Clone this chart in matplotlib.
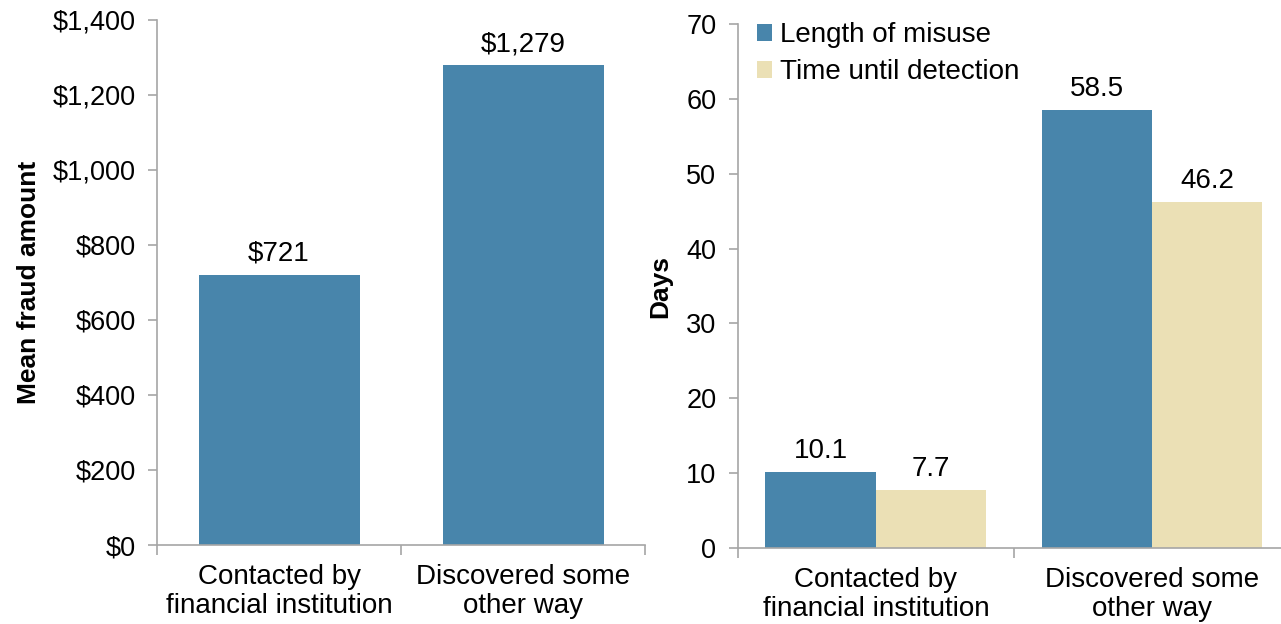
import numpy as np
import matplotlib.pyplot as plt

plt.rcParams['font.family'] = ['Liberation Sans', 'DejaVu Sans']

# ---------------- DATA ----------------
categories = ["Contacted by\nfinancial institution", "Discovered some\nother way"]
mean_fraud = [721, 1279]
fraud_labels = ["$721", "$1,279"]

length_misuse = [10.1, 58.5]
time_detection = [7.7, 46.2]

BLUE = "#4885ab"
BEIGE = "#ebe0b5"
SPINE = "#a6a6a6"
FS = 20
TICK_FS = 19.5

fig = plt.figure(figsize=(12.81, 6.24), dpi=100)
ax1 = fig.add_axes([0.1226, 0.1266, 0.381, 0.8414])
ax2 = fig.add_axes([0.576, 0.1218, 0.431, 0.8397])

x = np.arange(len(categories))


def style_axis(ax):
    for s in ["top", "right"]:
        ax.spines[s].set_visible(False)
    for s in ["left", "bottom"]:
        ax.spines[s].set_color(SPINE)
        ax.spines[s].set_linewidth(1.2)
    ax.set_xlim(-0.5, len(categories) - 0.5)
    # category ticks sit at the boundaries, labels in the middle
    ax.set_xticks(np.arange(len(categories) + 1) - 0.5)
    ax.set_xticklabels([])
    ax.set_xticks(x, minor=True)
    ax.set_xticklabels(categories, minor=True, fontsize=FS, linespacing=1.12)
    ax.tick_params(axis="x", which="major", direction="out", length=7, color=SPINE, width=1.2)
    ax.tick_params(axis="x", which="minor", length=0, pad=14)
    ax.tick_params(axis="y", direction="out", length=6.5, color=SPINE, width=1.2,
                   labelsize=TICK_FS, pad=9)


# ---------------- LEFT: mean fraud amount ----------------
b = ax1.bar(x, mean_fraud, width=0.66, color=BLUE)
for rect, lab in zip(b, fraud_labels):
    ax1.annotate(lab, (rect.get_x() + rect.get_width() / 2, rect.get_height()),
                 xytext=(0, 6), textcoords="offset points", ha="center", va="bottom", fontsize=FS)
style_axis(ax1)
ax1.set_ylim(0, 1400)
ax1.set_yticks(np.arange(0, 1401, 200))
ax1.set_yticklabels([f"${v:,}" for v in range(0, 1401, 200)])
ax1.set_ylabel("Mean fraud amount", fontsize=19, fontweight="bold", labelpad=8)

# ---------------- RIGHT: days ----------------
w = 0.40
b1 = ax2.bar(x - w / 2, length_misuse, width=w, color=BLUE, label="Length of misuse")
b2 = ax2.bar(x + w / 2, time_detection, width=w, color=BEIGE, label="Time until detection")
for bars in (b1, b2):
    for rect in bars:
        ax2.annotate(f"{rect.get_height():.1f}",
                     (rect.get_x() + rect.get_width() / 2, rect.get_height()),
                     xytext=(0, 6), textcoords="offset points", ha="center", va="bottom",
                     fontsize=FS)
style_axis(ax2)
ax2.set_ylim(0, 70)
ax2.set_yticks(np.arange(0, 71, 10))
ax2.set_ylabel("Days", fontsize=19, fontweight="bold", labelpad=10)
ax2.legend(loc="upper left", bbox_to_anchor=(0.014, 1.025), frameon=False, fontsize=FS,
           handlelength=0.55, handleheight=0.55, handletextpad=0.3, labelspacing=0.4,
           borderaxespad=0)

fig.savefig("out.png", dpi=100)
